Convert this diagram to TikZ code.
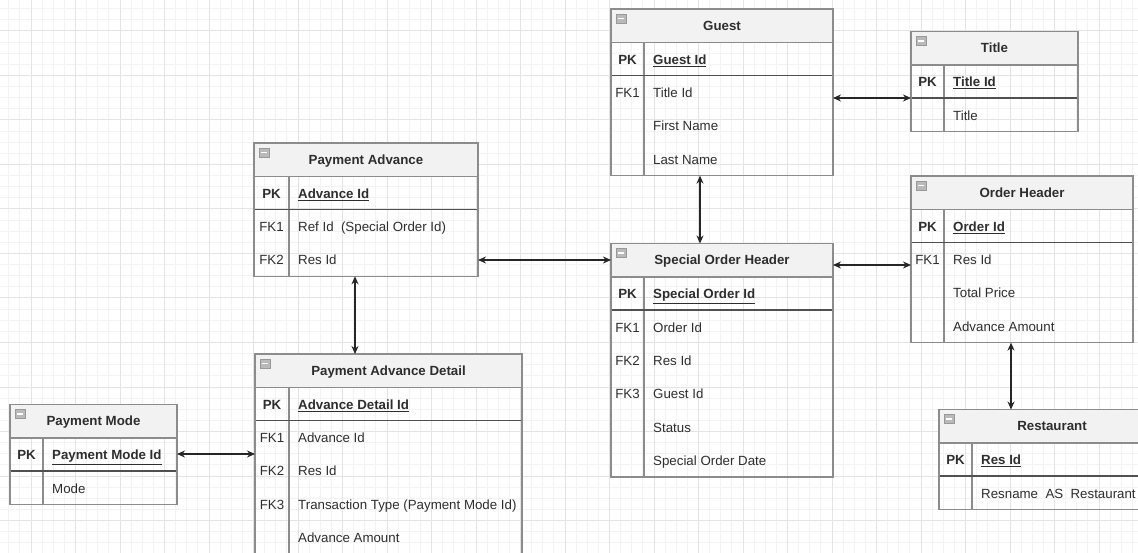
\documentclass[tikz,border=0pt]{standalone}
\usepackage{fontspec}
\setmainfont{Liberation Sans}
\usetikzlibrary{arrows.meta,calc}
\definecolor{bordc}{HTML}{8C8C8C}
\definecolor{pkc}{HTML}{505050}
\definecolor{hdrc}{HTML}{F2F2F2}
\definecolor{txtc}{HTML}{2E2E2E}
\definecolor{minorc}{HTML}{F3F3F3}
\definecolor{majorc}{HTML}{E4E4E4}
\tikzset{
  tbl/.style={draw=bordc, line width=1.4pt, inner sep=0pt, outer sep=0pt},
  hdr/.style={fill=hdrc, draw=bordc, line width=1.4pt, inner sep=0pt, outer sep=0pt, text=txtc, text height=9.6pt, text depth=0pt, font=\fontsize{13.3}{16}\selectfont\bfseries},
  sepl/.style={draw=bordc, line width=1.2pt},
  pkl/.style={draw=pkc, line width=1.5pt},
  pklab/.style={inner sep=0pt, text=txtc, text height=9.6pt, text depth=0pt, font=\fontsize{13.3}{16}\selectfont\bfseries},
  fklab/.style={inner sep=0pt, text=txtc, text height=9.6pt, text depth=0pt, font=\fontsize{13.3}{16}\selectfont},
  fld/.style={inner sep=0pt, anchor=west, text=txtc, text height=9.6pt, text depth=0pt, font=\fontsize{13.3}{16}\selectfont},
  rel/.style={draw=black!85, line width=1.2pt, {Stealth[length=8pt,width=7pt]}-{Stealth[length=8pt,width=7pt]}},
  iconbox/.style={fill=gray!55, draw=gray!80, line width=0.8pt}
}
% #1 name, #2 x1, #3 x2, #4 xdiv, #5 top, #6 nrows, #7 title, #8 pk field, #9 rows
\newcommand\ertable[9]{%
  \pgfmathsetmacro\tw{#3-#2}%
  \pgfmathsetmacro\th{(#6+2)*33.33}%
  \node[hdr, minimum width=\tw pt, minimum height=33.33pt, anchor=north west] (#1-h) at (#2,#5) {#7};
  \draw[iconbox] ({#2+5},{#5+5}) rectangle ({#2+15},{#5+14});
  \draw[white, line width=1.6pt] ({#2+7},{#5+9.5}) -- ({#2+13},{#5+9.5});
  \draw[sepl] (#4,{#5+33.33}) -- (#4,{#5+\th});
  \draw[pkl] (#2,{#5+66.67}) -- (#3,{#5+66.67});
  \node[tbl, minimum width=\tw pt, minimum height=\th pt, anchor=north west] (#1) at (#2,#5) {};
  \node[pklab] (#1-pkl) at ({(#2+#4)/2},{#5+50.5}) {PK};
  \node[fld] (#1-pk) at ({#4+9},{#5+50.5}) {\underline{\textbf{#8}}};
  \foreach \fk/\fd [count=\i] in {#9} {
    \node[fklab] (#1-k\i) at ({(#2+#4)/2},{#5+66.67+33.33*\i-16.17}) {\fk};
    \node[fld] (#1-f\i) at ({#4+9},{#5+66.67+33.33*\i-16.17}) {\fd};
  }
}
\begin{document}
\begin{tikzpicture}[x=1pt,y=-1pt]
\clip (0,0) rectangle (1138,553);
\fill[white] (0,0) rectangle (1138,553);
% grid
\foreach \k in {0,...,103} {
  \draw[minorc, line width=1pt] ({8.75+11.125*\k},0) -- ({8.75+11.125*\k},553);
}
\foreach \k in {0,...,50} {
  \draw[minorc, line width=1pt] (0,{8.75+11.125*\k}) -- (1138,{8.75+11.125*\k});
}
\foreach \k in {0,...,25} {
  \draw[majorc, line width=1pt] ({31+44.5*\k},0) -- ({31+44.5*\k},553);
}
\foreach \k in {0,...,12} {
  \draw[majorc, line width=1pt] (0,{31+44.5*\k}) -- (1138,{31+44.5*\k});
}
% tables
\ertable{guest}{611}{833}{644}{9}{3}{Guest}{Guest Id}{FK1/Title Id,/First Name,/Last Name}
\ertable{title}{911}{1078}{944}{31.5}{1}{Title}{Title Id}{/Title}
\ertable{pa}{254}{478}{289}{143}{2}{Payment Advance}{Advance Id}{FK1/Ref Id\ \ (Special Order Id),FK2/Res Id}
\ertable{soh}{611}{833}{644}{243.5}{5}{Special Order Header}{Special Order Id}{FK1/Order Id,FK2/Res Id,FK3/Guest Id,/Status,/Special Order Date}
\ertable{oh}{911}{1133}{944}{176}{3}{Order Header}{Order Id}{FK1/Res Id,/Total Price,/Advance Amount}
\ertable{rest}{939}{1165}{972}{409.5}{1}{Restaurant}{Res Id}{/Resname\ \ AS\ \ Restaurant}
\ertable{pm}{10}{177}{43}{404.5}{1}{Payment Mode}{Payment Mode Id}{/Mode}
\ertable{pad}{255}{522}{289}{354}{4}{Payment Advance Detail}{Advance Detail Id}{FK1/Advance Id,FK2/Res Id,FK3/Transaction Type (Payment Mode Id),/Advance Amount}
% relationships
\draw[rel] (guest.east |- 0,98) -- (title.west |- 0,98);
\draw[rel] (guest.south -| 700,0) -- (soh.north -| 700,0);
\draw[rel] (pa.east |- 0,260) -- (soh.west |- 0,260);
\draw[rel] (soh.east |- 0,265) -- (oh.west |- 0,265);
\draw[rel] (pa.south -| 355,0) -- (pad.north -| 355,0);
\draw[rel] (pm.east |- 0,454) -- (pad.west |- 0,454);
\draw[rel] (oh.south -| 1011,0) -- (rest.north -| 1011,0);
\end{tikzpicture}
\end{document}
